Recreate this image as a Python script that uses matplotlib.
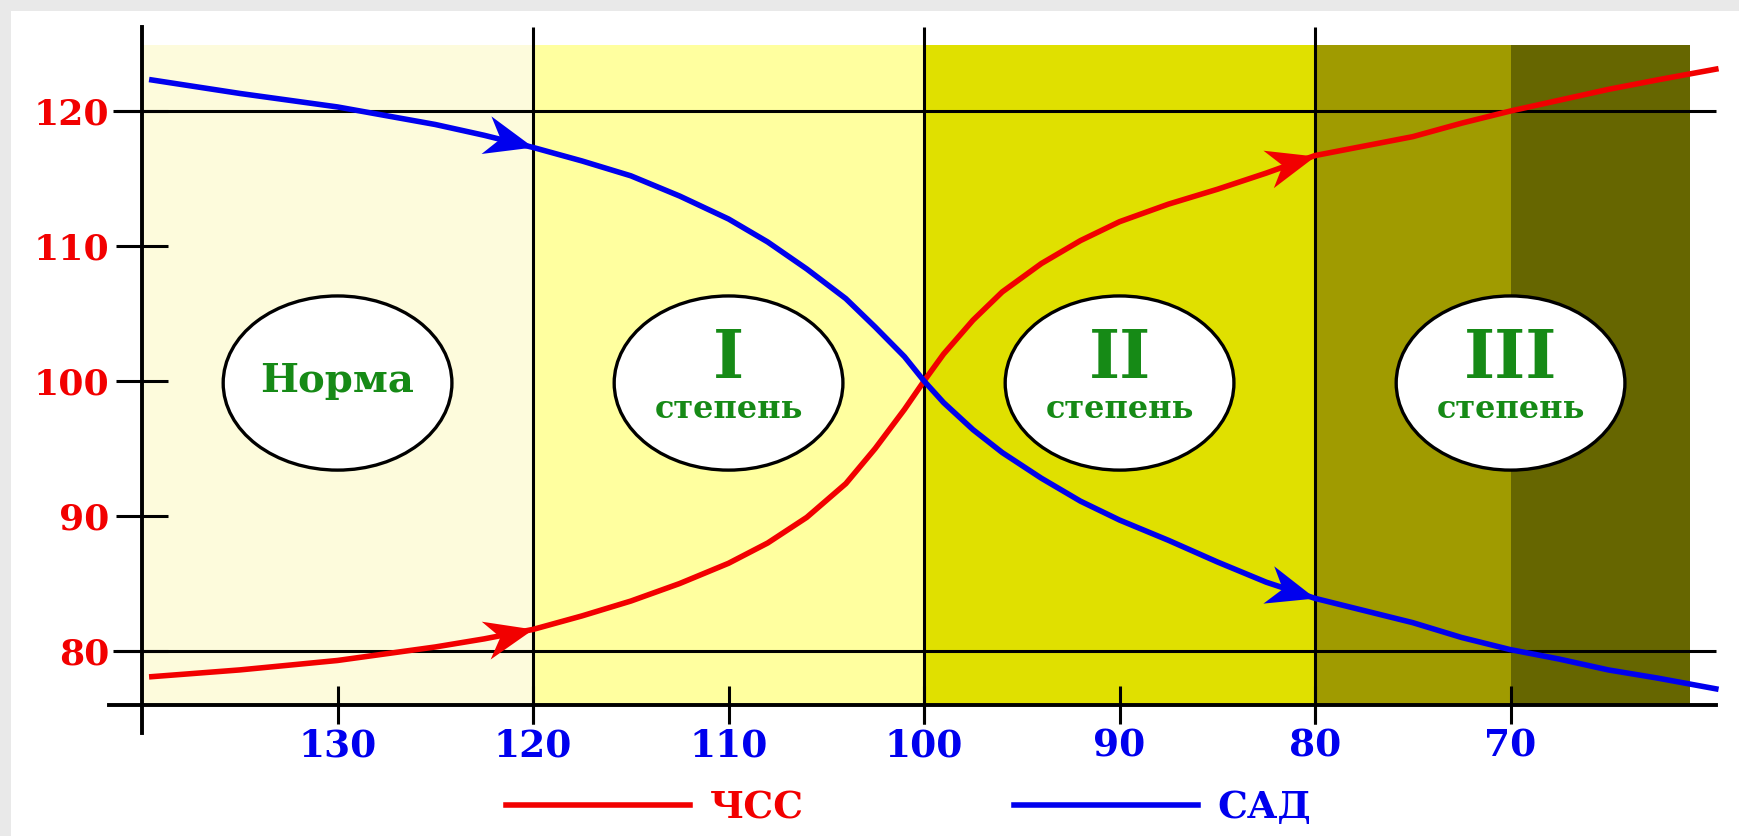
import numpy as np
import matplotlib
matplotlib.use("Agg")
import matplotlib.pyplot as plt
from matplotlib.patches import Ellipse, Rectangle
from matplotlib.path import Path
from matplotlib.markers import MarkerStyle
from matplotlib.transforms import Affine2D

plt.rcParams["font.family"] = ["DejaVu Serif"]
plt.rcParams["font.weight"] = "bold"

# bottom axis runs right-to-left
x_pts = [139.5, 135, 130, 125, 122.5, 120, 117.5, 115, 112.5, 110, 108, 106, 104, 102.5,
         101, 100, 99, 97.5, 96, 94, 92, 90, 87.5, 85, 82.5, 80, 77.5, 75, 72.5, 70,
         67.5, 65, 62.5, 59.5]
hr_vals = [78.1, 78.6, 79.3, 80.3, 80.9, 81.6, 82.6, 83.7, 85.0, 86.5, 88.0, 89.9, 92.4,
           95.0, 97.9, 100.0, 102.0, 104.5, 106.6, 108.7, 110.4, 111.8, 113.1, 114.2,
           115.4, 116.7, 117.4, 118.1, 119.1, 120.0, 120.8, 121.6, 122.3, 123.1]
sbp_vals = [122.3, 121.3, 120.3, 119.0, 118.2, 117.3, 116.3, 115.2, 113.7, 112.0, 110.3,
            108.3, 106.1, 104.0, 101.8, 100.0, 98.4, 96.4, 94.7, 92.8, 91.1, 89.7, 88.2,
            86.6, 85.1, 83.9, 83.0, 82.1, 81.0, 80.1, 79.4, 78.6, 78.0, 77.2]
arrow_at = [120, 80]

x_ticks = [130, 120, 110, 100, 90, 80, 70]
y_ticks = [80, 90, 100, 110, 120]
grid_x = [120, 100, 80]
grid_y = [120, 80]

band_edges = [140, 120, 100, 80, 70, 60.8]
band_colors = ["#fdfbdc", "#ffff9f", "#e0e000", "#a09b00", "#666600"]

stage_x = [130, 110, 90, 70]
stage_num = ["", "I", "II", "III"]
stage_word = ["Норма", "степень", "степень", "степень"]

RED = "#f20000"
BLUE = "#0000ee"
GREEN = "#168a16"

fig = plt.figure(figsize=(17.39, 8.36), dpi=100)
fig.patch.set_facecolor("#e9e9e9")
fig.add_artist(Rectangle((0.0065, 0), 1, 0.987, transform=fig.transFigure,
                         facecolor="white", edgecolor="none", zorder=-10))

ax = fig.add_axes([0.0592, 0.1163, 0.9331, 0.8559])
ax.patch.set_alpha(0)
ax.set_xlim(142, 59)
ax.set_ylim(73.5, 126.5)

for i, c in enumerate(band_colors):
    ax.fill_between([band_edges[i], band_edges[i + 1]], 76, 124.9, color=c, lw=0, zorder=0)

ax.vlines(grid_x, 74.6, 126.2, color="black", lw=2.2, zorder=2)
ax.hlines(grid_y, 141.5, 59.5, color="black", lw=2.2, zorder=2)

ax.plot(x_pts, hr_vals, color=RED, lw=4, zorder=4, label="ЧСС", solid_joinstyle="round")
ax.plot(x_pts, sbp_vals, color=BLUE, lw=4, zorder=4, label="САД", solid_joinstyle="round")

# barbed arrow heads along the curves
head = Path([(0, 0), (-1, 0.4), (-0.7, 0), (-1, -0.4), (0, 0)],
            [Path.MOVETO, Path.LINETO, Path.LINETO, Path.LINETO, Path.CLOSEPOLY])
for vals, col in [(hr_vals, RED), (sbp_vals, BLUE)]:
    for xa in arrow_at:
        i = x_pts.index(xa)
        p0 = ax.transData.transform((x_pts[i - 1], vals[i - 1]))
        p1 = ax.transData.transform((x_pts[i + 1], vals[i + 1]))
        ang = np.degrees(np.arctan2(p1[1] - p0[1], p1[0] - p0[0]))
        m = MarkerStyle(head, transform=Affine2D().rotate_deg(ang))
        ax.plot([x_pts[i]], [vals[i]], marker=m, markersize=70, color=col,
                markeredgewidth=0, linestyle="none", zorder=5)

for sx, num, word in zip(stage_x, stage_num, stage_word):
    ax.add_patch(Ellipse((sx, 99.85), 11.7, 12.9, facecolor="white", edgecolor="black",
                         lw=2.4, zorder=6))
    if num:
        ax.text(sx, 101.6, num, fontsize=48, color=GREEN, ha="center", va="center", zorder=7)
        ax.text(sx, 97.9, word, fontsize=23, color=GREEN, ha="center", va="center", zorder=7)
    else:
        ax.text(sx, 100, word, fontsize=29, color=GREEN, ha="center", va="center", zorder=7)

for s in ["top", "right"]:
    ax.spines[s].set_visible(False)
ax.spines["left"].set_position(("data", 140))
ax.spines["left"].set_bounds(73.9, 126.2)
ax.spines["bottom"].set_position(("data", 76))
ax.spines["bottom"].set_bounds(141.7, 59.5)
for s in ["left", "bottom"]:
    ax.spines[s].set_linewidth(2.8)
    ax.spines[s].set_zorder(3)

ax.set_xticks(x_ticks)
ax.set_yticks(y_ticks)
ax.tick_params(axis="y", direction="inout", length=37, width=2.2, pad=5,
               labelsize=26, labelcolor=RED)
ax.tick_params(axis="x", direction="inout", length=27, width=2.2, pad=3,
               labelsize=27, labelcolor=BLUE)

leg = ax.legend(loc="center", bbox_to_anchor=(0.5227, 0.0335), bbox_transform=fig.transFigure,
                ncol=2, frameon=False, fontsize=27, handlelength=4.9, handletextpad=0.53,
                columnspacing=5.6)
for t, c in zip(leg.get_texts(), [RED, BLUE]):
    t.set_color(c)

fig.savefig("out.png", dpi=100, facecolor=fig.get_facecolor())
